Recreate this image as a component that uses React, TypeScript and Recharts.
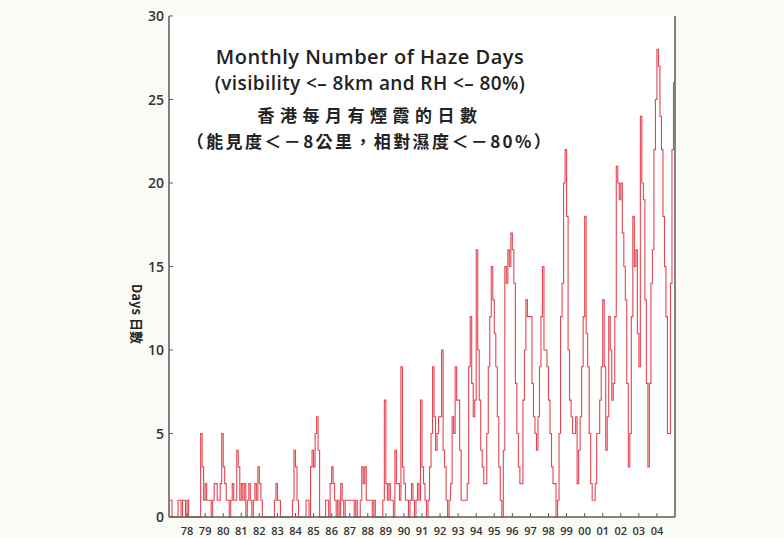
import React from "react";
import { LineChart, Line, XAxis, YAxis, CartesianGrid } from "recharts";

// Monthly number of haze days, Jan..Dec for each year
const haze1977 = [1, 1, 0, 0, 0, 0, 1, 1, 0, 1, 1, 0];
const haze1978 = [1, 0, 0, 0, 0, 0, 0, 0, 0, 5, 3, 1];
const haze1979 = [2, 1, 1, 1, 0, 1, 2, 2, 1, 1, 2, 5];
const haze1980 = [3, 2, 1, 1, 0, 1, 2, 1, 1, 4, 3, 1];
const haze1981 = [2, 1, 2, 0, 1, 2, 1, 0, 1, 2, 1, 3];
const haze1982 = [2, 1, 0, 0, 0, 0, 0, 0, 0, 0, 1, 2];
const haze1983 = [1, 1, 0, 0, 0, 0, 0, 0, 0, 0, 1, 4];
const haze1984 = [3, 1, 0, 0, 0, 0, 0, 1, 1, 0, 3, 4];
const haze1985 = [3, 5, 6, 4, 0, 0, 0, 0, 1, 1, 0, 2];
const haze1986 = [3, 2, 1, 0, 1, 0, 2, 1, 0, 1, 1, 1];
const haze1987 = [1, 1, 1, 0, 1, 0, 0, 1, 3, 2, 3, 1];
const haze1988 = [1, 1, 1, 0, 1, 0, 0, 0, 0, 0, 1, 7];
const haze1989 = [2, 1, 2, 1, 1, 0, 4, 2, 2, 1, 9, 3];
const haze1990 = [2, 1, 1, 0, 1, 2, 1, 0, 1, 2, 1, 7];
const haze1991 = [3, 2, 1, 0, 1, 3, 5, 9, 6, 4, 5, 6];
const haze1992 = [6, 10, 4, 3, 1, 0, 1, 2, 6, 5, 9, 7];
const haze1993 = [7, 4, 1, 1, 1, 1, 2, 9, 12, 8, 6, 7];
const haze1994 = [16, 10, 7, 4, 3, 2, 2, 5, 9, 12, 15, 13];
const haze1995 = [11, 9, 6, 3, 1, 0, 4, 15, 14, 16, 15, 17];
const haze1996 = [16, 14, 8, 5, 3, 2, 2, 7, 10, 13, 12, 12];
const haze1997 = [12, 8, 6, 5, 4, 6, 9, 12, 15, 10, 10, 9];
const haze1998 = [7, 5, 3, 2, 2, 0, 1, 5, 12, 14, 20, 22];
const haze1999 = [18, 10, 7, 6, 5, 5, 6, 2, 4, 6, 9, 12];
const haze2000 = [18, 11, 9, 5, 2, 1, 1, 2, 5, 5, 7, 9];
const haze2001 = [13, 9, 4, 6, 12, 10, 7, 8, 12, 21, 20, 19];
const haze2002 = [20, 17, 15, 13, 8, 3, 5, 12, 18, 15, 16, 11];
const haze2003 = [9, 24, 20, 19, 13, 8, 3, 8, 14, 16, 22, 25];
const haze2004 = [28, 27, 24, 22, 18, 15, 12, 5, 5, 14, 22, 26];

const yearTickLabels = [
  "78", "79", "80", "81", "82", "83", "84", "85", "86", "87", "88", "89", "90",
  "91", "92", "93", "94", "95", "96", "97", "98", "99", "00", "01", "02", "03", "04",
];
const yTicks = [0, 5, 10, 15, 20, 25, 30];

const allYears = [
  haze1977, haze1978, haze1979, haze1980, haze1981, haze1982, haze1983, haze1984,
  haze1985, haze1986, haze1987, haze1988, haze1989, haze1990, haze1991, haze1992,
  haze1993, haze1994, haze1995, haze1996, haze1997, haze1998, haze1999, haze2000,
  haze2001, haze2002, haze2003, haze2004,
];

const monthly = allYears.flat();
const data = monthly.map((v, i) => ({ t: i, v }));
// close the last month for the step line
data.push({ t: monthly.length, v: monthly[monthly.length - 1] });

const xTicks = yearTickLabels.map((_, i) => (i + 1) * 12);

const AXIS = "#5a5a5a";
const FONT = "'Open Sans', 'Noto Sans', sans-serif";
const CJK = "'Noto Sans CJK TC', 'Noto Sans CJK SC', sans-serif";

const LeftTick = (props: any) => {
  const { y, payload } = props;
  return (
    <g>
      <line x1={169} x2={173} y1={y} y2={y} stroke={AXIS} strokeWidth={1} />
      <text x={164} y={y} dy={5} textAnchor="end" fontSize={14} fontWeight={600} fill="#333" fontFamily={FONT}>
        {payload.value}
      </text>
    </g>
  );
};

const RightTick = (props: any) => {
  const { y } = props;
  return <line x1={675} x2={671} y1={y} y2={y} stroke={AXIS} strokeWidth={1} />;
};

const BottomTick = (props: any) => {
  const { x, payload } = props;
  const idx = Math.round(payload.value / 12) - 1;
  return (
    <g>
      <line x1={x} x2={x} y1={517} y2={513} stroke={AXIS} strokeWidth={1} />
      <text x={x} y={535} textAnchor="middle" fontSize={11} fontWeight={600} fill="#333" fontFamily={FONT}>
        {yearTickLabels[idx]}
      </text>
    </g>
  );
};

export default function App() {
  return (
    <div style={{ position: "absolute", left: 0, top: 0, width: 784, height: 538, background: "#fbfbf6", overflow: "hidden" }}>
      <LineChart width={784} height={538} data={data} margin={{ top: 16, right: 0, bottom: 0, left: 0 }}>
        <CartesianGrid fill="#ffffff" horizontal={false} vertical={false} />
        <XAxis
          dataKey="t"
          type="number"
          domain={[0, monthly.length]}
          ticks={xTicks}
          interval={0}
          height={21}
          axisLine={{ stroke: AXIS, strokeWidth: 1.5 }}
          tickLine={false}
          tick={<BottomTick />}
        />
        <XAxis
          xAxisId="top"
          orientation="top"
          dataKey="t"
          type="number"
          domain={[0, monthly.length]}
          height={0}
          axisLine={{ stroke: AXIS, strokeWidth: 1.5 }}
          tick={false}
          tickLine={false}
        />
        <YAxis
          yAxisId="left"
          domain={[0, 30]}
          ticks={yTicks}
          width={169}
          interval={0}
          axisLine={{ stroke: AXIS, strokeWidth: 1.5 }}
          tickLine={false}
          tick={<LeftTick />}
        />
        <YAxis
          yAxisId="right"
          orientation="right"
          domain={[0, 30]}
          ticks={yTicks}
          width={109}
          interval={0}
          axisLine={{ stroke: AXIS, strokeWidth: 1.5 }}
          tickLine={false}
          tick={<RightTick />}
        />
        <Line
          yAxisId="left"
          dataKey="v"
          type="stepAfter"
          stroke="#e0323f"
          strokeWidth={1.1}
          strokeOpacity={0.9}
          dot={false}
          activeDot={false}
          isAnimationActive={false}
        />
      </LineChart>

      <div style={{ position: "absolute", left: 120, width: 500, top: 47, textAlign: "center", fontFamily: FONT, color: "#222", lineHeight: 1 }}>
        <div style={{ fontSize: 20, fontWeight: 600, letterSpacing: 0.5 }}>Monthly Number of Haze Days</div>
      </div>
      <div style={{ position: "absolute", left: 120, width: 500, top: 74, textAlign: "center", fontFamily: FONT, color: "#222", lineHeight: 1 }}>
        <div style={{ fontSize: 19, fontWeight: 600, letterSpacing: 0.4 }}>(visibility &lt;– 8km and RH &lt;– 80%)</div>
      </div>
      <div style={{ position: "absolute", left: 120, width: 500, top: 106, textAlign: "center", fontFamily: CJK, color: "#222", lineHeight: 1 }}>
        <div style={{ fontSize: 17, fontWeight: 700, letterSpacing: 5.5 }}>香港每月有煙霞的日數</div>
      </div>
      <div style={{ position: "absolute", left: 120, width: 500, top: 132, textAlign: "center", fontFamily: CJK, color: "#222", lineHeight: 1 }}>
        <div style={{ fontSize: 17, fontWeight: 700, letterSpacing: 2.4 }}>（能見度＜－8公里，相對濕度＜－80%）</div>
      </div>

      <div
        style={{
          position: "absolute",
          left: 137,
          top: 314,
          transform: "translate(-50%, -50%) rotate(90deg)",
          whiteSpace: "nowrap",
          fontFamily: CJK,
          fontSize: 13,
          fontWeight: 700,
          color: "#222",
          lineHeight: 1,
        }}
      >
        Days 日數
      </div>
    </div>
  );
}
